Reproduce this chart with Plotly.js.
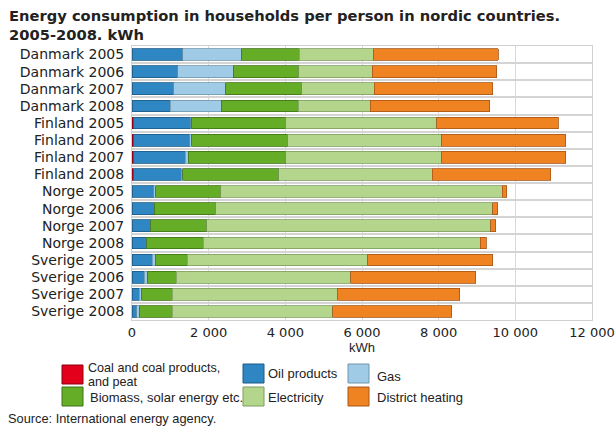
<!DOCTYPE html>
<html>
<head>
<meta charset="utf-8">
<script src="https://cdn.plot.ly/plotly-3.0.1.min.js"></script>
<style>
  html, body { margin: 0; padding: 0; background: #fff; }
  #chart { width: 616px; height: 427px; }
</style>
</head>
<body>
<div id="chart"></div>
<script>
// Household energy use per person, kWh, by country and year
const categories = [
  "Danmark 2005", "Danmark 2006", "Danmark 2007", "Danmark 2008",
  "Finland 2005", "Finland 2006", "Finland 2007", "Finland 2008",
  "Norge 2005", "Norge 2006", "Norge 2007", "Norge 2008",
  "Sverige 2005", "Sverige 2006", "Sverige 2007", "Sverige 2008"
];

const coal        = [0, 0, 0, 0,   30, 30, 30, 30,   0, 0, 0, 0,   0, 0, 0, 0];
const oil         = [1330, 1190, 1095, 1000,   1500, 1480, 1360, 1250,   565, 580, 495, 391,   530, 313, 183, 130];
const gas         = [1520, 1450, 1357, 1339,   30, 45, 80, 50,   50, 0, 0, 0,   87, 87, 70, 61];
const biomass     = [1513, 1705, 1982, 1999,   2448, 2505, 2538, 2504,   1698, 1611, 1461, 1469,   826, 756, 799, 861];
const electricity = [1930, 1921, 1886, 1878,   3938, 4006, 4058, 3998,   7345, 7215, 7407, 7224,   4712, 4556, 4321, 4190];
const district    = [3261, 3243, 3086, 3121,   3172, 3252, 3244, 3096,   114, 131, 130, 156,   3251, 3260, 3173, 3096];

const seriesNames = [
  "Coal and coal products,<br>and peat", "Oil products", "Gas",
  "Biomass, solar energy etc.", "Electricity", "District heating"
];
const seriesValues = [coal, oil, gas, biomass, electricity, district];
const seriesColors = ["#e2001a", "#2e87c3", "#9fcbe6", "#66ad27", "#b4d68c", "#ef8321"];
const seriesEdges  = ["#8a0010", "#1d5a85", "#6f96ad", "#3f7317", "#7f9c62", "#a6561a"];

const traces = seriesValues.map((vals, i) => ({
  type: "bar",
  orientation: "h",
  name: seriesNames[i].replace("<br>", " "),
  y: categories,
  x: vals,
  marker: { color: seriesColors[i], line: { color: seriesEdges[i], width: 0.8 } },
  showlegend: false,
  hoverinfo: "x+name"
}));

// Plot frame in pixels
const W = 616, H = 427;
const M = { l: 132, r: 24, t: 46, b: 107 };
const pw = W - M.l - M.r, ph = H - M.t - M.b;
const px = x => (x - M.l) / pw;
const py = y => (H - M.b - y) / ph;

const WIDE = "DejaVu Sans, Verdana, sans-serif";
const NARROW = "Liberation Sans, Arial, sans-serif";

// Legend laid out in three columns, two rows (sy = swatch top, ty = first text line centre)
const legendSlots = [
  { sx: 62,  sy: 365, tx: 86,  ty: 367.5 },
  { sx: 243, sy: 364, tx: 266, ty: 373 },
  { sx: 348, sy: 364, tx: 375, ty: 376 },
  { sx: 62,  sy: 387, tx: 88,  ty: 397 },
  { sx: 243, sy: 387, tx: 266, ty: 397 },
  { sx: 348, sy: 387, tx: 375, ty: 397 }
];
const LINE_STEP = 14;
const shapes = [];
const annotations = [];
legendSlots.forEach((s, i) => {
  shapes.push({
    type: "rect", xref: "paper", yref: "paper",
    x0: px(s.sx), x1: px(s.sx + 21), y0: py(s.sy), y1: py(s.sy + 19),
    fillcolor: seriesColors[i], line: { color: seriesEdges[i], width: 1 }
  });
  const lines = seriesNames[i].split("<br>");
  lines.forEach((line, k) => {
    const ann = {
      xref: "paper", yref: "paper", x: px(s.tx), y: py(s.ty + k * LINE_STEP),
      xanchor: "left", yanchor: "middle", align: "left", showarrow: false,
      text: line, font: { family: NARROW, size: 13, color: "#222" }
    };
    // wrapped entries use tight line boxes
    if (lines.length > 1) { ann.height = 14; ann.font.size = 12.6; }
    annotations.push(ann);
  });
});
annotations.push({
  xref: "paper", yref: "paper", x: px(6), y: py(418),
  xanchor: "left", yanchor: "middle", showarrow: false,
  text: "Source: International energy agency.", font: { family: NARROW, size: 12.8, color: "#222" }
});
// Chart heading
annotations.push({
  xref: "paper", yref: "paper", x: px(7), y: py(5),
  xanchor: "left", yanchor: "top", align: "left", showarrow: false,
  text: "<b>Energy consumption in households per person in nordic countries.<br>2005-2008. kWh</b>",
  font: { family: WIDE, size: 14.7, color: "#222" }
});

const layout = {
  width: W, height: H,
  margin: M,
  paper_bgcolor: "#fff", plot_bgcolor: "#fff",
  font: { family: WIDE, color: "#222", size: 13 },
  separators: ", ",
  barmode: "stack",
  bargap: 0.32,
  xaxis: {
    range: [0, 12000], dtick: 2000, tick0: 0,
    tickformat: ",d",
    showgrid: true, gridcolor: "#d9d9d9", gridwidth: 1,
    zeroline: false, showline: true, linecolor: "#d0d0d0", mirror: true,
    ticks: "", tickfont: { size: 13 },
    title: { text: "kWh", font: { family: NARROW, size: 13 }, standoff: 1 }
  },
  yaxis: {
    type: "category", autorange: "reversed",
    tickson: "boundaries", ticks: "",
    showgrid: true, gridcolor: "#d4d4d4", gridwidth: 2,
    showline: true, linecolor: "#d0d0d0", mirror: true,
    tickfont: { size: 14 }, ticklabelstandoff: 4
  },
  shapes: shapes,
  annotations: annotations
};

Plotly.newPlot("chart", traces, layout, { displayModeBar: false, staticPlot: true });
</script>
</body>
</html>
